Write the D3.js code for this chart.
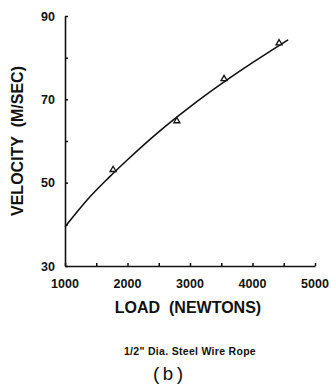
<!DOCTYPE html>
<html>
<head>
<meta charset="utf-8">
<script src="https://cdn.jsdelivr.net/npm/d3@7"></script>
<style>
	body { margin: 0; background: #fff; }
	text { font-family: "Liberation Sans", Arial, sans-serif; font-weight: bold; fill: #111; white-space: pre; }
</style>
</head>
<body>
<div id="container"></div>
<script>
var width = 331, height = 385;
var margin = ({top: 16, right: 16, bottom: 119, left: 65});

// measured points (load N, velocity m/s)
var pointLoads = [1770, 2790, 3545, 4425];
var pointVelocities = [53.1, 64.8, 74.9, 83.5];

// fitted curve
var curveLoads = [1000, 1350, 1700, 2000, 2500, 3000, 3500, 4000, 4570];
var curveVelocities = [39.4, 45.8, 51.2, 55.5, 62.2, 68.2, 73.7, 78.8, 84.3];

var xTicks = [1000, 1500, 2000, 2500, 3000, 3500, 4000, 4500, 5000];
var xTickLabels = [1000, 2000, 3000, 4000, 5000];
var yTicks = [30, 40, 50, 60, 70, 80, 90];
var yTickLabels = [30, 50, 70, 90];

var svg = d3.select('div#container')
	.append('svg')
	.attr('width', width)
	.attr('height', height);

var x = d3.scaleLinear().domain([1000, 5000]).range([margin.left, width - margin.right]);
var y = d3.scaleLinear().domain([30, 90]).range([height - margin.bottom, margin.top]);

// x axis, ticks point inward
var xAxis = svg.append('g')
	.attr('transform', 'translate(0,' + y(30) + ')')
	.call(d3.axisBottom(x).tickValues(xTicks).tickSize(-3).tickSizeOuter(0).tickFormat(''));
xAxis.select('.domain').attr('stroke', '#111').attr('stroke-width', 1.6);
xAxis.selectAll('.tick line').attr('stroke', '#111').attr('stroke-width', 1.5);

svg.append('g').selectAll('text')
	.data(xTickLabels)
	.join('text')
	.attr('x', d => x(d))
	.attr('y', y(30) + 22)
	.attr('text-anchor', 'middle')
	.attr('font-size', '12.5px')
	.text(d => d);

// y axis
var yAxis = svg.append('g')
	.attr('transform', 'translate(' + x(1000) + ',0)')
	.call(d3.axisLeft(y).tickValues(yTicks).tickSize(-3).tickSizeOuter(0).tickFormat(''));
yAxis.select('.domain').attr('stroke', '#111').attr('stroke-width', 1.6);
yAxis.selectAll('.tick line').attr('stroke', '#111').attr('stroke-width', 1.5);

svg.append('g').selectAll('text')
	.data(yTickLabels)
	.join('text')
	.attr('x', x(1000) - 10)
	.attr('y', d => y(d) + 4.5)
	.attr('text-anchor', 'end')
	.attr('font-size', '12.5px')
	.text(d => d);

// curve
var curveData = curveLoads.map((d, i) => ({load: d, v: curveVelocities[i]}));
svg.append('path')
	.datum(curveData)
	.attr('fill', 'none')
	.attr('stroke', '#111')
	.attr('stroke-width', 1.6)
	.attr('d', d3.line().x(d => x(d.load)).y(d => y(d.v)).curve(d3.curveMonotoneX));

// triangles
var pointData = pointLoads.map((d, i) => ({load: d, v: pointVelocities[i]}));
svg.append('g').selectAll('path')
	.data(pointData)
	.join('path')
	.attr('transform', d => 'translate(' + x(d.load) + ',' + y(d.v) + ')')
	.attr('d', d3.symbol().type(d3.symbolTriangle).size(16))
	.attr('fill', '#fff')
	.attr('stroke', '#111')
	.attr('stroke-width', 1.3);

// axis titles
svg.append('text')
	.attr('x', 188)
	.attr('y', 313)
	.attr('text-anchor', 'middle')
	.attr('font-size', '16px')
	.text('LOAD  (NEWTONS)');

svg.append('text')
	.attr('transform', 'translate(23,141) rotate(-90)')
	.attr('text-anchor', 'middle')
	.attr('font-size', '16px')
	.text('VELOCITY  (M/SEC)');

svg.append('text')
	.attr('x', 190)
	.attr('y', 355)
	.attr('text-anchor', 'middle')
	.attr('font-size', '10.5px')
	.attr('letter-spacing', '0.3px')
	.text('1/2" Dia. Steel Wire Rope');

svg.append('text')
	.attr('x', 168)
	.attr('y', 380)
	.attr('text-anchor', 'middle')
	.attr('font-size', '19px')
	.style('font-family', '"Liberation Mono", "DejaVu Sans Mono", monospace')
	.style('font-weight', 'normal')
	.text('(b)');
</script>
</body>
</html>
